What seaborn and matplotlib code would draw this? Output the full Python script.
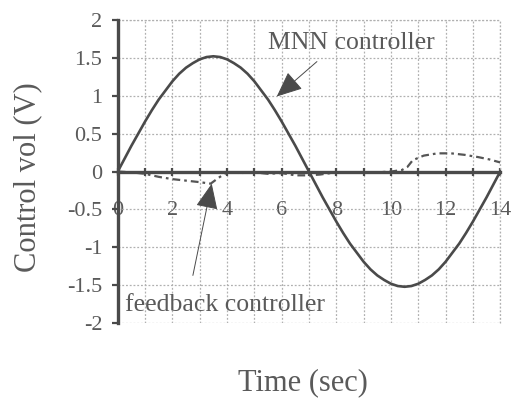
import numpy as np
import pandas as pd
import matplotlib
matplotlib.use("Agg")
import matplotlib.pyplot as plt
from matplotlib.ticker import MultipleLocator
import seaborn as sns

# MNN controller output (V), sampled every 0.25 s
mnn_time = [i * 0.25 for i in range(57)]
mnn_volt = [0.00, 0.17, 0.34, 0.50, 0.66, 0.81, 0.95, 1.07, 1.19, 1.29, 1.37, 1.43, 1.48, 1.51,
            1.52, 1.51, 1.48, 1.43, 1.37, 1.29, 1.19, 1.07, 0.95, 0.81, 0.66, 0.50, 0.34, 0.17,
            0.00, -0.17, -0.34, -0.50, -0.66, -0.81, -0.95, -1.07, -1.19, -1.29, -1.37, -1.43,
            -1.48, -1.51, -1.52, -1.51, -1.48, -1.43, -1.37, -1.29, -1.19, -1.07, -0.95, -0.81,
            -0.66, -0.50, -0.34, -0.17, 0.00]

# Feedback controller output (V)
fb_time = [0, 0.5, 1.0, 1.5, 2.0, 2.5, 3.0, 3.4, 3.7, 4.0, 4.5, 5.0, 5.5, 6.0, 6.5, 7.0,
           7.4, 7.8, 8.5, 9.0, 9.5, 10.0, 10.4, 10.6, 10.8, 11.2, 11.7, 12.2, 12.7, 13.2,
           13.6, 14.0]
fb_volt = [0.00, -0.01, -0.03, -0.07, -0.10, -0.12, -0.14, -0.16, -0.08, -0.01, -0.02, -0.01,
           -0.03, -0.02, -0.05, -0.05, -0.04, -0.02, -0.01, -0.02, -0.01, 0.00, 0.02, 0.06,
           0.15, 0.21, 0.24, 0.24, 0.22, 0.19, 0.16, 0.12]

x_ticks = [0, 2, 4, 6, 8, 10, 12, 14]
y_ticks = [-2, -1.5, -1, -0.5, 0, 0.5, 1, 1.5, 2]
y_tick_labels = ["-2", "-1.5", "-1", "-0.5", "0", "0.5", "1", "1.5", "2"]

ink = "#4a4a4a"
text_col = "#5a5a5a"
grid_col = "#b0b0b0"

sns.set_theme(style="white")
plt.rcParams["font.family"] = ["Liberation Serif", "DejaVu Serif"]

fig, ax = plt.subplots(figsize=(5.12, 3.98), dpi=100)
fig.subplots_adjust(left=0.230, right=0.977, top=0.950, bottom=0.188)

mnn_df = pd.DataFrame({"t": mnn_time, "v": mnn_volt})
fb_df = pd.DataFrame({"t": fb_time, "v": fb_volt})

sns.lineplot(data=mnn_df, x="t", y="v", ax=ax, color=ink, lw=1.9, zorder=4)
sns.lineplot(data=fb_df, x="t", y="v", ax=ax, color="#555555", lw=1.6,
             dashes=False, zorder=3)
ax.lines[-1].set_dashes([3.5, 1.8, 1.2, 1.8])

ax.set_xlim(0, 14)
ax.set_ylim(-2, 2)

# axes crossing at the origin
ax.spines["left"].set_position(("data", 0))
ax.spines["bottom"].set_position(("data", 0))
ax.spines["top"].set_visible(False)
ax.spines["right"].set_visible(False)
for s in ("left", "bottom"):
    ax.spines[s].set_color(ink)
    ax.spines[s].set_linewidth(2.4)
    ax.spines[s].set_zorder(5)

ax.set_xticks(x_ticks)
ax.set_xticklabels([str(v) for v in x_ticks])
ax.xaxis.set_minor_locator(MultipleLocator(1))
ax.set_yticks(y_ticks)
ax.set_yticklabels(y_tick_labels)

ax.tick_params(axis="x", which="both", direction="inout", length=6, width=1.6,
               color=ink, pad=18, labelsize=16, labelcolor=text_col, bottom=True)
ax.tick_params(axis="y", which="major", direction="out", length=4, width=1.6,
               color=ink, pad=7, labelsize=16, labelcolor=text_col, left=True)

ax.grid(True, which="both", axis="x", color=grid_col, linestyle=(0, (1.5, 1.5)), linewidth=0.9)
ax.grid(True, which="major", axis="y", color=grid_col, linestyle=(0, (1.5, 1.5)), linewidth=0.9)
ax.plot([0, 14], [2, 2], color=grid_col, ls=(0, (1.5, 1.5)), lw=0.9, clip_on=False)
ax.plot([14, 14], [-2, 2], color=grid_col, ls=(0, (1.5, 1.5)), lw=0.9, clip_on=False)

ax.set_xlabel("Time (sec)", fontsize=22, color=text_col)
ax.set_ylabel("Control vol (V)", fontsize=22, color=text_col)
ax.xaxis.set_label_coords(0.484, -0.15)
ax.yaxis.set_label_coords(-0.198, 0.48)

arrow_kw = dict(arrowstyle="-|>,head_length=0.8,head_width=0.35", mutation_scale=20,
                color=ink, lw=0.7, shrinkA=0, shrinkB=0)
ax.annotate("", xy=(5.82, 0.99), xytext=(7.29, 1.45), arrowprops=arrow_kw, zorder=6)
ax.annotate("", xy=(3.44, -0.16), xytext=(2.75, -1.37), arrowprops=arrow_kw, zorder=6)

ax.text(5.49, 1.62, "MNN controller", fontsize=18.5, color=text_col, va="baseline")
ax.text(0.26, -1.84, "feedback controller", fontsize=18.5, color=text_col, va="baseline")

fig.savefig("out.png", dpi=100)
